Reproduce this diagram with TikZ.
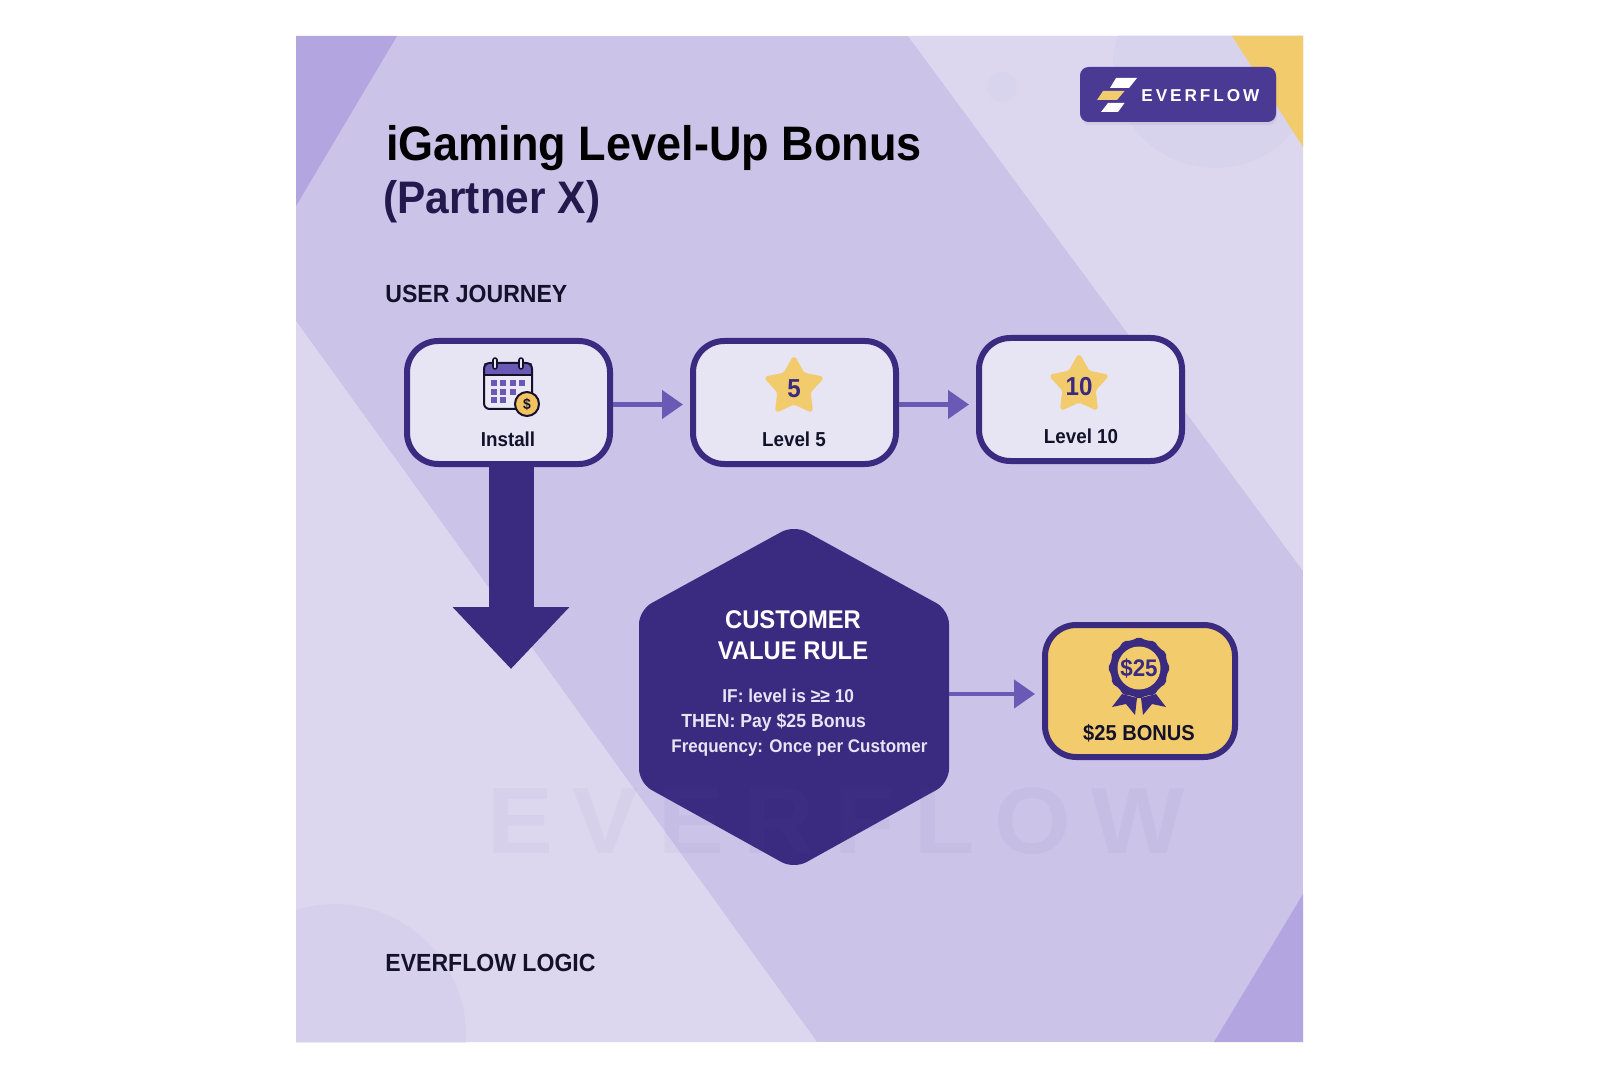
\documentclass[tikz,border=0pt]{standalone}
\usepackage{fontspec}
\setmainfont[FakeStretch=0.93]{Liberation Sans}
\newfontfamily\logofont[LetterSpace=17]{Liberation Sans}
\newfontfamily\markfont[LetterSpace=21,FakeStretch=1.05]{Liberation Sans}
\usepackage{xcolor}
\usetikzlibrary{arrows.meta,positioning,calc,shapes.geometric,shadows}
\definecolor{deep}{HTML}{3A2A80}
\definecolor{logoblue}{HTML}{4A3A94}
\definecolor{midpurple}{HTML}{6A5AB5}
\definecolor{gold}{HTML}{F2CB6C}
\definecolor{softcard}{HTML}{E7E4F4}
\definecolor{panelbase}{HTML}{CBC3E8}
\definecolor{panellight}{HTML}{DCD7EE}
\definecolor{paneldark}{HTML}{B3A5DF}
\definecolor{ink}{HTML}{14122A}
\tikzset{
    every picture/.style={line cap=round,line join=round},
    journeybox/.style={draw=deep,fill=softcard,line width=3pt,rounded corners=5.5mm,
      minimum width=101.5pt,minimum height=61.5pt,inner sep=0pt},
    boxlabel/.style={text=ink,font=\bfseries\fontsize{10.1}{12}\selectfont,inner sep=0pt},
    headtext/.style={text=ink,font=\bfseries\fontsize{12.4}{14}\selectfont,anchor=west,inner sep=0pt},
    levelstar/.style={star,star points=5,star point ratio=1.85,fill=gold,draw=gold,
      line width=1.5pt,rounded corners=1pt,minimum size=29.5pt,inner sep=0pt},
    levelnum/.style={text=deep,font=\bfseries\fontsize{13}{14}\selectfont,inner sep=0pt},
    flowarrow/.style={-{Triangle[length=10.5pt,width=14pt]},draw=midpurple,
      line width=2.2pt,line cap=butt,shorten >=3.5pt},
    ruletitle/.style={text=white,font=\bfseries\fontsize{12.8}{14}\selectfont,inner sep=0pt},
    ruleline/.style={text=softcard,font=\bfseries\fontsize{9.3}{11}\selectfont,anchor=west,inner sep=0pt}
}
\begin{document}
\begin{tikzpicture}[x=0.5pt,y=-0.5pt]
  \useasboundingbox[fill=white] (0,0) rectangle (1600,1080);
  % background panel
  \begin{scope}
    \clip (296,36) rectangle (1303,1042);
    \fill[panelbase] (296,36) rectangle (1303,1042);
    \fill[panellight] (908,36)--(1303,571)--(1303,36)--cycle;
    \fill[panellight] (296,321)--(817,1042)--(296,1042)--cycle;
    \fill[panelbase,opacity=0.2] (1215,66) circle[radius=102];
    \fill[panelbase,opacity=0.15] (1002,87) circle[radius=15];
    \fill[panelbase,opacity=0.3] (335,1035) circle[radius=131];
    \fill[paneldark] (296,36)--(397,36)--(296,206)--cycle;
    \fill[paneldark] (1303,894)--(1303,1042)--(1214,1042)--cycle;
    \fill[gold] (1232,36)--(1303,36)--(1303,147)--cycle;
  \end{scope}
  % logo
  \node[fill=logoblue,rounded corners=1.5mm,minimum width=98pt,minimum height=27.5pt,
    drop shadow={opacity=0.12,shadow xshift=0.5pt,shadow yshift=-1.5pt}] (logo) at (1178,94.5) {};
  \node[text=white,font=\logofont\bfseries\fontsize{8.6}{9}\selectfont,anchor=west,inner sep=0pt]
    (logotext) at (1141,95.5) {EVERFLOW};
  \fill[white] (1110,88)--(1129,88)--(1137,78)--(1116,78)--cycle;
  \fill[gold] (1097,100)--(1117,100)--(1124.5,91)--(1103,91)--cycle;
  \fill[white] (1101,112)--(1118,112)--(1124.5,103)--(1108,103)--cycle;
  % headings
  \node[text=black,font=\bfseries\fontsize{24.2}{26}\selectfont,anchor=west,inner sep=0pt]
    (title) at (386,148) {iGaming Level-Up Bonus};
  \node[text=deep!60!black,font=\bfseries\fontsize{22.8}{24}\selectfont,anchor=west,inner sep=0pt]
    (subtitle) at (383,202) {(Partner X)};
  \node[headtext] (journey) at (385,294) {USER JOURNEY};
  \node[headtext] (logic) at (385,963) {EVERFLOW LOGIC};
  % journey row
  \node[journeybox] (install) at (508.5,402.5) {};
  \node[journeybox,right=38.5pt of install] (lvl5) {};
  \node[journeybox,right=38.5pt of lvl5,yshift=1.5pt] (lvl10) {};
  \node[boxlabel] (installlabel) at (508,439) {Install};
  \node[boxlabel] (lvl5label) at (794,439) {Level 5};
  \node[boxlabel] (lvl10label) at (1081,436) {Level 10};
  \node[levelstar] (star5) at (794,387) {};
  \node[levelstar] (star10) at (1079,385) {};
  \node[levelnum] (num5) at (794,389) {5};
  \node[levelnum] (num10) at (1079,387) {10};
  % calendar
  \fill[softcard!80!white] (484,363) rectangle (532,409);
  \fill[midpurple] (484,363) rectangle (532,375);
  \draw[ink,line width=1pt,rounded corners=1mm] (484,363) rectangle (532,409);
  \draw[ink,line width=1pt] (484,375)--(532,375);
  \foreach \ringx in {495,521}
    \draw[ink,line width=0.8pt,fill=softcard,rounded corners=1pt] (\ringx-2,358) rectangle (\ringx+2,369);
  \foreach \cellx/\celly in {494/383,503/383,513/383,522/383,494/392,503/392,513/392,494/400,503/400}
    \fill[midpurple] (\cellx-3.2,\celly-2.6) rectangle (\cellx+3.2,\celly+2.6);
  \node[circle,draw=ink,fill=gold!90!orange,line width=1pt,minimum size=12pt,inner sep=0pt,
    text=ink,font=\bfseries\fontsize{7.5}{9}\selectfont] (coin) at (527,404) {\$};
  % rule
  \fill[deep,rounded corners=2.5mm] (794,525)--(949,610)--(949,783)--(794,869)--(639,783)--(639,610)--cycle;
  \node[minimum width=155pt,minimum height=168pt,inner sep=0pt,outer sep=0pt] (rule) at (794,694) {};
  \node[ruletitle] (ruletop) at (793,620) {CUSTOMER};
  \node[ruletitle] (rulesub) at (793,651) {VALUE RULE};
  \node[ruleline] (ifline) at (722,696) {IF: level is {\fontsize{9.4}{9}\selectfont≥≥} 10};
  \node[ruleline,font=\bfseries\fontsize{9.5}{11}\selectfont] (thenline) at (681,722) {THEN: Pay \$25 Bonus};
  \node[ruleline,font=\bfseries\fontsize{9.15}{11}\selectfont] (freqline) at (671,748) {Frequency: Once per Customer};
  % watermark
  \node[text=midpurple,opacity=0.05,font=\markfont\bfseries\fontsize{47}{54}\selectfont,inner sep=0pt]
    (mark) at (836,821) {EVERFLOW};
  % bonus
  \node[journeybox,fill=gold,minimum width=95pt,minimum height=66pt] (bonus) at (1140,691) {};
  \fill[deep] (1122,694)--(1112,707)--(1126,704)--(1135,715)--(1137,698)--cycle;
  \fill[deep] (1156,694)--(1166,707)--(1152,704)--(1143,715)--(1141,698)--cycle;
  \node[star,star points=12,star point ratio=1.09,fill=deep,rounded corners=1pt,minimum size=31pt,inner sep=0pt] (seal) at (1139,668) {};
  \node[circle,fill=gold,minimum size=21.5pt,inner sep=0pt] (sealcore) at (1139,668) {};
  \node[text=deep,inner sep=0pt,font=\bfseries\fontsize{12}{12}\selectfont] (sealtext) at (1139,668) {\$25};
  \node[boxlabel,font=\bfseries\fontsize{10.8}{12}\selectfont] (bonuslabel) at (1139,733) {\$25 BONUS};
  % connectors
  \coordinate (jump) at (511,669);
  \draw[flowarrow] ([yshift=-1pt]install.east)--([yshift=-1pt]lvl5.west);
  \draw[flowarrow] ([yshift=-1pt]lvl5.east)--([yshift=-1pt]lvl5.east -| lvl10.west);
  \draw[flowarrow] (rule.east)--(bonus.west |- rule.east);
  \draw[deep,line width=22.5pt,line cap=butt,-{Triangle[length=31pt,width=56.5pt]}]
    (jump |- install.south)--(jump);
\end{tikzpicture}
\end{document}
